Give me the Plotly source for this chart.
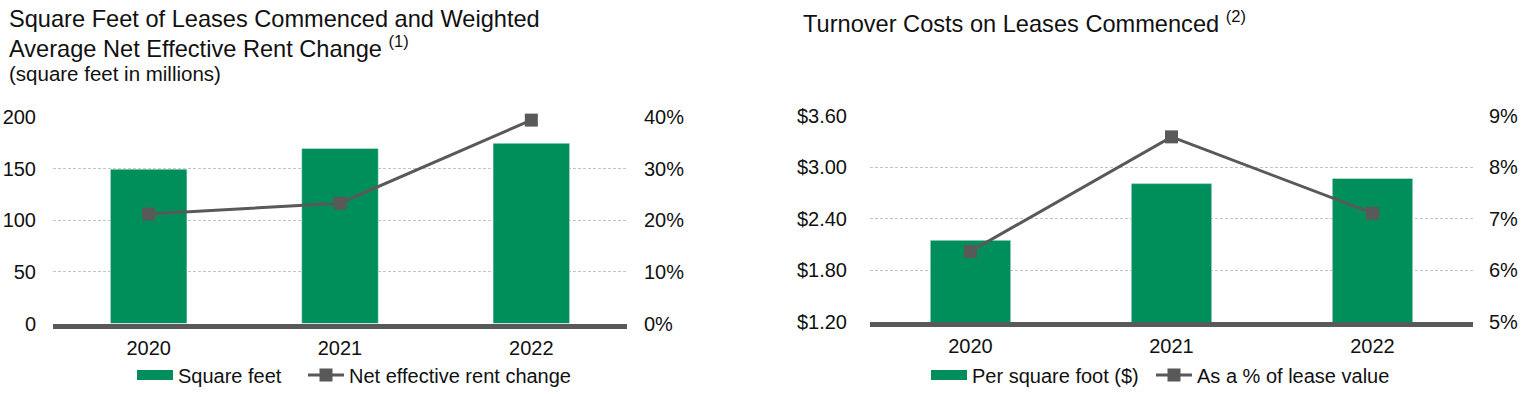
import plotly.graph_objects as go

years = ["2020", "2021", "2022"]
sq_feet = [149.5, 169.5, 174.5]          # square feet in millions
rent_change = [21.2, 23.3, 39.4]          # net effective rent change, %
per_sq_foot = [2.15, 2.81, 2.87]          # turnover cost per square foot, $
pct_lease_value = [6.37, 8.59, 7.11]      # as a % of lease value

left_ticks = [0, 50, 100, 150, 200]
left_pct_ticks = [0, 10, 20, 30, 40]
left_pct_labels = ["0%", "10%", "20%", "30%", "40%"]
right_ticks = [1.20, 1.80, 2.40, 3.00, 3.60]
right_tick_labels = ["$1.20", "$1.80", "$2.40", "$3.00", "$3.60"]
right_pct_ticks = [5, 6, 7, 8, 9]
right_pct_labels = ["5%", "6%", "7%", "8%", "9%"]

GREEN = "#008F5A"
GRAY = "#595959"
GRID = "#C4C4C4"
FONT = "Liberation Sans, Arial, sans-serif"
TXT = "#111111"

W, H = 1525, 394
def px(x):
    return x / W
def py(y):
    return (H - y) / H

fig = go.Figure()

def marker_line():
    return dict(mode="lines+markers", line=dict(color=GRAY, width=3),
                marker=dict(symbol="square", size=13, color=GRAY))

# left chart
fig.add_trace(go.Bar(x=years, y=sq_feet, name="Square feet", marker_color=GREEN,
                     xaxis="x", yaxis="y", showlegend=False))
fig.add_trace(go.Scatter(x=[None], y=[None], name="Square feet", mode="lines",
                         line=dict(color=GREEN, width=11), xaxis="x", yaxis="y",
                         legend="legend", hoverinfo="skip"))
fig.add_trace(go.Scatter(x=years, y=rent_change, name="Net effective rent change",
                         xaxis="x", yaxis="y2", legend="legend2", cliponaxis=False,
                         **marker_line()))
# right chart
fig.add_trace(go.Bar(x=years, y=per_sq_foot, name="Per square foot ($)", marker_color=GREEN,
                     xaxis="x2", yaxis="y3", showlegend=False))
fig.add_trace(go.Scatter(x=[None], y=[None], name="Per square foot ($)", mode="lines",
                         line=dict(color=GREEN, width=11), xaxis="x2", yaxis="y3",
                         legend="legend3", hoverinfo="skip"))
fig.add_trace(go.Scatter(x=years, y=pct_lease_value, name="As a % of lease value",
                         xaxis="x2", yaxis="y4", legend="legend4", cliponaxis=False,
                         **marker_line()))

tickfont = dict(family=FONT, size=20, color=TXT)
grid = dict(showgrid=True, gridcolor=GRID, griddash="3px,2px", gridwidth=1)
noline = dict(zeroline=False, showline=False, ticks="")
baseline = dict(zeroline=False, showline=True, linecolor=GRAY, linewidth=5, ticks="")

def leg(xpix):
    return dict(orientation="h", x=px(xpix), y=py(375), xanchor="left", yanchor="middle",
                font=dict(family=FONT, size=20, color=TXT), bgcolor="rgba(0,0,0,0)",
                borderwidth=0, itemwidth=36)

LB, LT = 323.5, 117
RB, RT = 322, 115.7

fig.update_layout(
    width=W, height=H,
    margin=dict(l=0, r=0, t=0, b=0, autoexpand=False),
    paper_bgcolor="white", plot_bgcolor="white",
    bargap=0.6,
    font=dict(family=FONT, color=TXT),
    xaxis=dict(domain=[px(53), px(627)], type="category", showgrid=False,
               tickfont=tickfont, ticklabelstandoff=2, anchor="y", **baseline),
    yaxis=dict(domain=[py(LB), py(LT)], range=[0, 200], tickvals=left_ticks,
               tickfont=tickfont, ticklabelstandoff=16, anchor="x", **grid, **noline),
    yaxis2=dict(domain=[py(LB), py(LT)], range=[0, 40], tickvals=left_pct_ticks,
                ticktext=left_pct_labels, overlaying="y", side="right", showgrid=False,
                tickfont=tickfont, ticklabelstandoff=16, anchor="x", **noline),
    xaxis2=dict(domain=[px(870), px(1473)], type="category", showgrid=False,
                tickfont=tickfont, ticklabelstandoff=2, anchor="y3", **baseline),
    yaxis3=dict(domain=[py(RB), py(RT)], range=[1.2, 3.6], tickvals=right_ticks,
                ticktext=right_tick_labels, tickfont=tickfont, ticklabelstandoff=22,
                anchor="x2", **grid, **noline),
    yaxis4=dict(domain=[py(RB), py(RT)], range=[5, 9], tickvals=right_pct_ticks,
                ticktext=right_pct_labels, overlaying="y3", side="right", showgrid=False,
                tickfont=tickfont, ticklabelstandoff=15, anchor="x2", **noline),
    legend=leg(132),
    legend2=leg(303),
    legend3=leg(926),
    legend4=leg(1151),
    showlegend=True,
)

title_font = dict(family=FONT, size=23.6, color=TXT)
def note(text, x, y, font):
    fig.add_annotation(text=text, xref="paper", yref="paper", x=px(x), y=py(y),
                       xanchor="left", yanchor="middle", showarrow=False, font=font)

note("Square Feet of Leases Commenced and Weighted", 7, 19, title_font)
note("Average Net Effective Rent Change <sup>(1)</sup>", 7, 46.5, title_font)
note("(square feet in millions)", 7, 73.5, dict(family=FONT, size=20.5, color=TXT))
note("Turnover Costs on Leases Commenced <sup>(2)</sup>", 801, 22, title_font)

fig.write_html("out.html", config={"displayModeBar": False},
               post_script="document.body.style.margin='0';document.body.style.overflow='hidden';")
